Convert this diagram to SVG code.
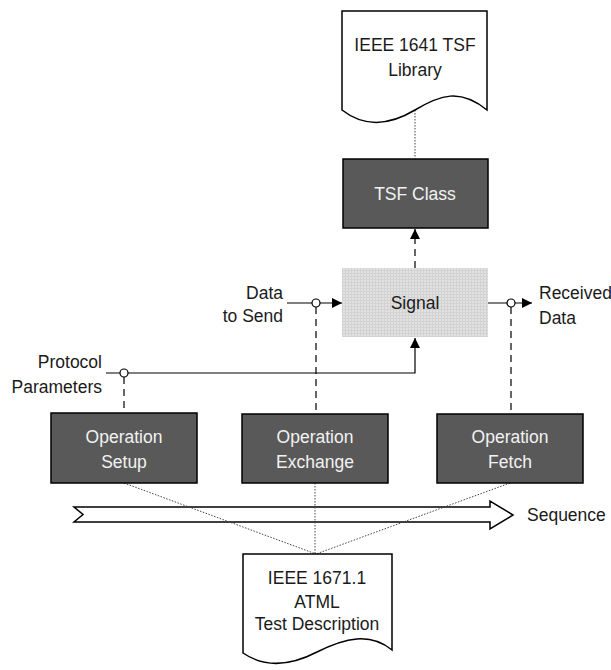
<svg xmlns="http://www.w3.org/2000/svg" width="611" height="670" viewBox="0 0 611 670">
<defs>
<style>
text{font-family:"Liberation Sans",Arial,sans-serif;font-size:17.5px;fill:#1a1a1a}
.op{fill:#595959;stroke:#000;stroke-width:1.5}
.lt{fill:#f2f2f2;text-anchor:middle}
.mid{text-anchor:middle}
.end{text-anchor:end}
.doc{fill:#fff;stroke:#000;stroke-width:1.5}
.ln{fill:none;stroke:#000;stroke-width:1.2}
.dash{fill:none;stroke:#000;stroke-width:1.2;stroke-dasharray:7 5}
.dot{fill:none;stroke:#444;stroke-width:1;stroke-dasharray:1.5 1.5}
.ring{fill:#fff;stroke:#000;stroke-width:1.2}
</style>
<pattern id="grid" width="3" height="3" patternUnits="userSpaceOnUse">
<rect width="3" height="3" fill="#e2e2e2"/>
<path d="M0,0.5H3M0.5,0V3" stroke="#d2d2d2" stroke-width="1"/>
</pattern>
<marker id="arr" markerWidth="10" markerHeight="10" refX="10" refY="5" orient="auto" markerUnits="userSpaceOnUse">
<path d="M0,0L10,5L0,10Z" fill="#000"/>
</marker>
</defs>

<g id="sequence">
<path d="M74,507H490V501L513,515L490,529V522H74L83,514.5Z" fill="#fff" stroke="#000" stroke-width="1.5"/>
<text x="527" y="521">Sequence</text>
</g>

<g id="connectors">
<path class="dot" d="M415,110V159"/>
<path class="dash" d="M415,268V229" marker-end="url(#arr)"/>
<path class="ln" d="M287,303H342" marker-end="url(#arr)"/>
<path class="ln" d="M488,303H532" marker-end="url(#arr)"/>
<path class="ln" d="M106,373H415V338" marker-end="url(#arr)"/>
<path class="dash" d="M316,307V414"/>
<path class="dash" d="M511,307V414"/>
<path class="dash" d="M124,377V413"/>
<circle class="ring" cx="316" cy="303" r="4"/>
<circle class="ring" cx="511" cy="303" r="4"/>
<circle class="ring" cx="124" cy="373" r="4"/>
<path class="dot" d="M124,483L316,554"/>
<path class="dot" d="M315,483V554"/>
<path class="dot" d="M510,483L316,554"/>
</g>

<g id="tsf-library">
<path class="doc" d="M342,11H487V110C460,88 440,95 415,110C390,125 365,128 342,110Z"/>
<text class="mid" x="415" y="51">IEEE 1641 TSF</text>
<text class="mid" x="415" y="76">Library</text>
</g>

<g id="tsf-class">
<rect class="op" x="343" y="159" width="145" height="69"/>
<text class="lt" x="415" y="200">TSF Class</text>
</g>

<g id="signal">
<rect x="342" y="268" width="146" height="69" fill="url(#grid)"/>
<text class="mid" x="415" y="309">Signal</text>
</g>

<g id="data-to-send">
<text class="end" x="283" y="299">Data</text>
<text class="end" x="283" y="322">to Send</text>
</g>

<g id="received-data">
<text x="539" y="299">Received</text>
<text x="539" y="324">Data</text>
</g>

<g id="protocol-parameters">
<text class="end" x="102" y="368">Protocol</text>
<text class="end" x="102" y="393">Parameters</text>
</g>

<g id="operation-setup">
<rect class="op" x="51" y="413" width="146" height="70"/>
<text class="lt" x="124" y="443">Operation</text>
<text class="lt" x="124" y="468">Setup</text>
</g>

<g id="operation-exchange">
<rect class="op" x="242" y="414" width="146" height="69"/>
<text class="lt" x="315" y="443">Operation</text>
<text class="lt" x="315" y="468">Exchange</text>
</g>

<g id="operation-fetch">
<rect class="op" x="437" y="414" width="146" height="69"/>
<text class="lt" x="510" y="443">Operation</text>
<text class="lt" x="510" y="468">Fetch</text>
</g>

<g id="atml-test-description">
<path class="doc" d="M243,554H392V650C370,632 345,638 317,652C290,666 265,668 243,653Z"/>
<text class="mid" x="317" y="584">IEEE 1671.1</text>
<text class="mid" x="317" y="608">ATML</text>
<text class="mid" x="317" y="630">Test Description</text>
</g>
</svg>
